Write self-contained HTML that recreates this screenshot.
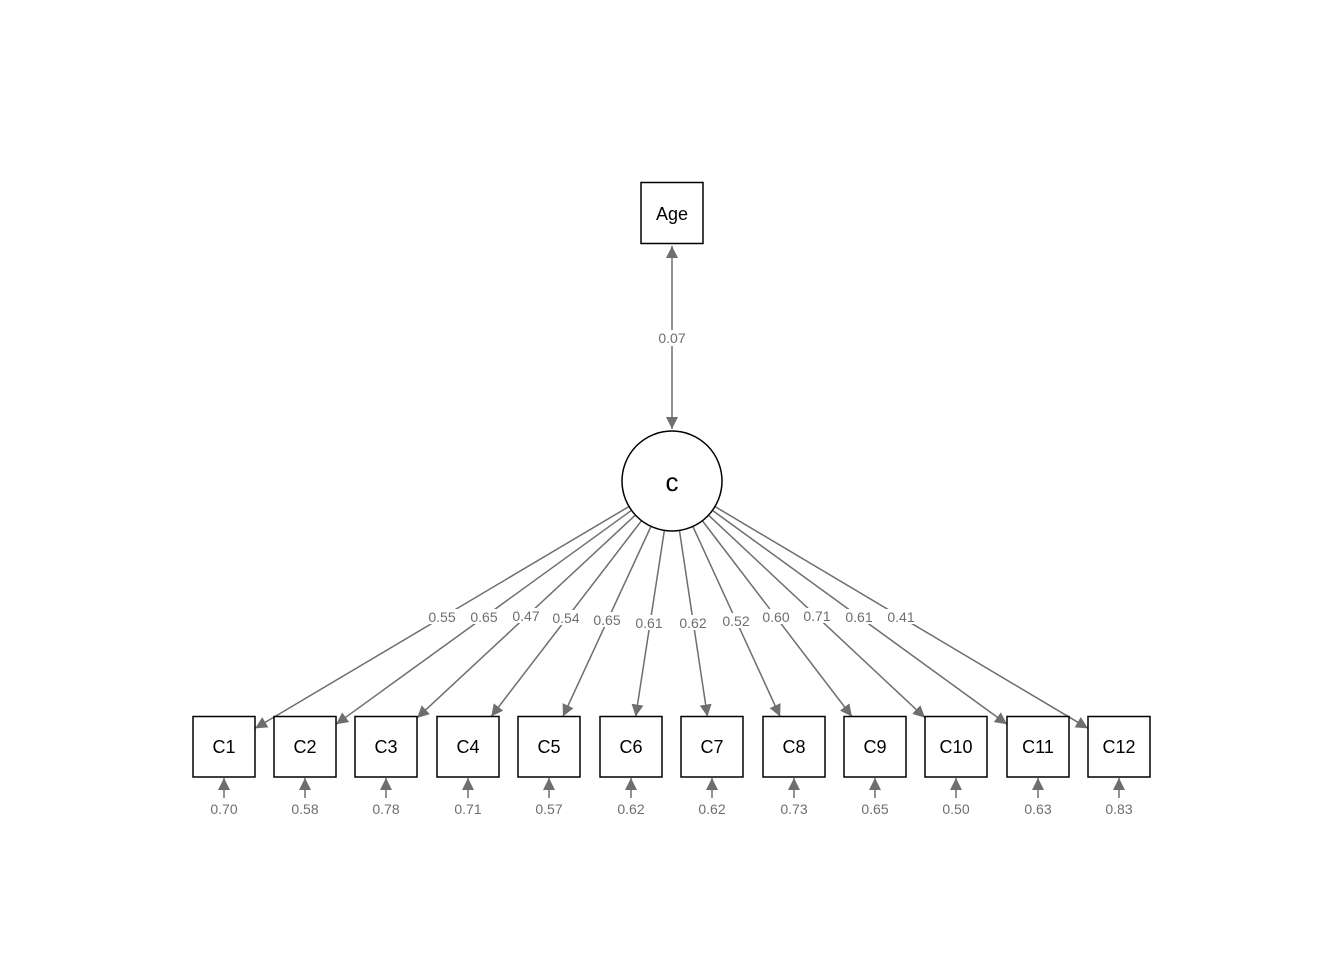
<!DOCTYPE html>
<html><head><meta charset="utf-8"><style>
html,body{margin:0;padding:0;background:#fff;}
svg{display:block;font-family:"Liberation Sans",Arial,sans-serif;}
</style></head><body>
<svg id="s" width="1344" height="960" viewBox="0 0 1344 960" xmlns="http://www.w3.org/2000/svg">
<defs>
<marker id="ah" markerWidth="12" markerHeight="12" refX="12" refY="6" orient="auto" markerUnits="userSpaceOnUse">
<path d="M0,0 L12,6 L0,12 z" fill="#6e6e6e"/></marker>
<marker id="ahs" markerWidth="12" markerHeight="12" refX="0" refY="6" orient="auto" markerUnits="userSpaceOnUse">
<path d="M12,0 L0,6 L12,12 z" fill="#6e6e6e"/></marker>
</defs>
<g id="lines"></g>
<g id="nodes"></g>
</svg>
<script>
(function(){
var NS="http://www.w3.org/2000/svg";
function el(p,t,a,txt){var e=document.createElementNS(NS,t);for(var k in a)e.setAttribute(k,a[k]);if(txt!=null)e.textContent=txt;p.appendChild(e);return e;}
var L=document.getElementById('lines'),N=document.getElementById('nodes');
var cx=672,cy=481,r=50;
el(L,'line',{x1:672,y1:246,x2:672,y2:429,stroke:'#6e6e6e','stroke-width':1.5,'marker-start':'url(#ahs)','marker-end':'url(#ah)'});
el(L,'rect',{x:654,y:330,width:36,height:16,fill:'#fff'});
el(L,'text',{x:672,y:343,'text-anchor':'middle','font-size':14,fill:'#6e6e6e'},'0.07');
el(N,'rect',{x:641,y:182.5,width:62,height:61,fill:'#fff',stroke:'#000','stroke-width':1.5});
el(N,'text',{x:672,y:220,'text-anchor':'middle','font-size':18,fill:'#000'},'Age');
el(N,'circle',{cx:cx,cy:cy,r:r,fill:'#fff',stroke:'#000','stroke-width':1.5});
el(N,'text',{x:672,y:491,'text-anchor':'middle','font-size':26,fill:'#000'},'c');
var xs=[224,305,386,468,549,631,712,794,875,956,1038,1119];
var load=['0.55','0.65','0.47','0.54','0.65','0.61','0.62','0.52','0.60','0.71','0.61','0.41'];
var lp=[[442,617],[484,617],[526,616],[566,618],[607,620],[649,623],[693,623],[736,621],[776,617],[817,616],[859,617],[901,617]];
var res=['0.70','0.58','0.78','0.71','0.57','0.62','0.62','0.73','0.65','0.50','0.63','0.83'];
var topY=716.5,hw=31,boxY=746.75;
for(var i=0;i<12;i++){
 var bx=xs[i],dx=bx-cx,dy=boxY-cy,len=Math.sqrt(dx*dx+dy*dy),ux=dx/len,uy=dy/len;
 var sx=cx+ux*r,sy=cy+uy*r;
 var t1=(topY-cy)/dy;
 var t2=Math.abs(dx)>0.5?(dx>0?(bx-hw-cx)/dx:(bx+hw-cx)/dx):-1;
 var t=Math.max(t1,t2);
 var ex=cx+dx*t,ey=cy+dy*t;
 el(L,'line',{x1:sx,y1:sy,x2:ex,y2:ey,stroke:'#6e6e6e','stroke-width':1.5,'marker-end':'url(#ah)'});
 el(N,'rect',{x:bx-hw,y:topY,width:62,height:60.5,fill:'#fff',stroke:'#000','stroke-width':1.5});
 el(N,'text',{x:bx,y:753,'text-anchor':'middle','font-size':18,fill:'#000'},'C'+(i+1));
 el(L,'line',{x1:bx,y1:798,x2:bx,y2:778,stroke:'#6e6e6e','stroke-width':1.5,'marker-end':'url(#ah)'});
 el(N,'text',{x:bx,y:814,'text-anchor':'middle','font-size':14,fill:'#6e6e6e'},res[i]);
}
for(var i=0;i<12;i++){
 el(N,'rect',{x:lp[i][0]-16,y:lp[i][1]-8,width:32,height:15,fill:'#fff'});
 el(N,'text',{x:lp[i][0],y:lp[i][1]+5,'text-anchor':'middle','font-size':14,fill:'#6e6e6e'},load[i]);
}
})();
</script>
</body></html>
